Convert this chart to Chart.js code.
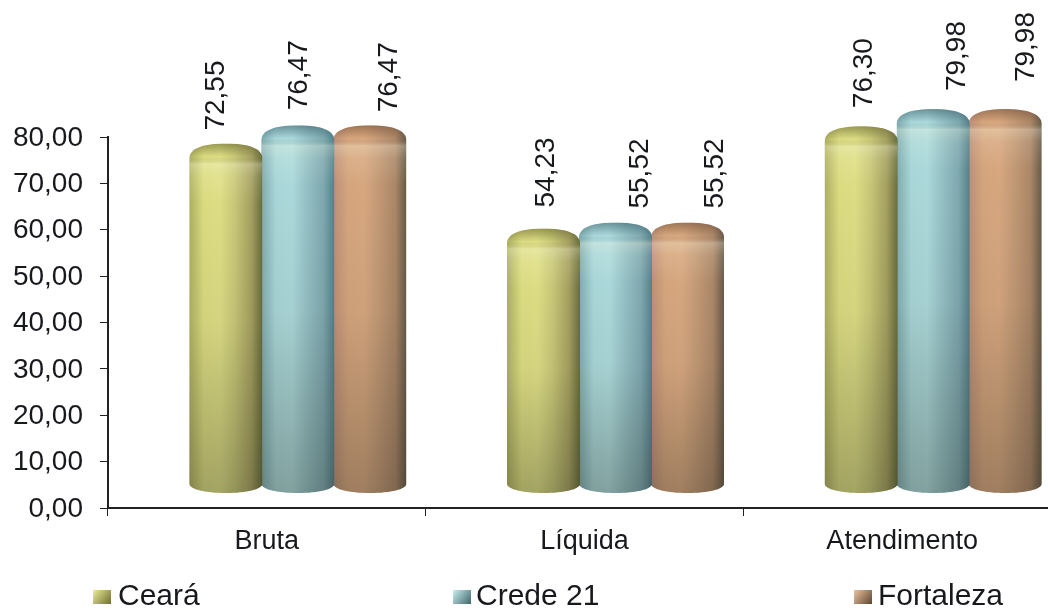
<!DOCTYPE html>
<html><head><meta charset="utf-8">
<style>html,body{margin:0;padding:0;background:#fff;overflow:hidden;width:1048px;height:609px}
#w{position:absolute;left:0;top:0;width:1061px;height:609px}canvas{display:block;filter:blur(0.5px)}</style>
<script src="https://cdn.jsdelivr.net/npm/chart.js@4"></script></head>
<body><div id="w"><canvas id="c" width="1061" height="609"></canvas></div>
<script>
const categories = ["Bruta","Líquida","Atendimento"];
const ceara = [72.55,54.23,76.30];
const crede21 = [76.47,55.52,79.98];
const fortaleza = [76.47,55.52,79.98];
const yTicks = [0,10,20,30,40,50,60,70,80];
const fmt = v => v.toFixed(2).replace('.',',');
const FONT = '"Liberation Sans", Arial, sans-serif';
const INK = '#17191d';
const SHIFT = {x:31,y:-21};
// label nudges: [category][series]
const labelDx = [[-10,1.5,19],[3,25,27.5],[3,24,21]];
const labelGap = [[41,43,41],[49,42,42],[46,46,55]];
const palette = [
 {stops:['#aeb060','#dcdc82','#dede86','#c9c878','#a5a060','#686c3c'],rim:'95,95,40',key:['#ecec9a','#6f6f30']},
 {stops:['#7fabb0','#aad7d9','#addadc','#96c2c6','#7fa9b0','#56808a'],rim:'50,90,100',key:['#c8f0f2','#3f6668']},
 {stops:['#bd8f78','#d6a67e','#d8a880','#c49a76','#ab8768','#675a48'],rim:'110,75,50',key:['#eec4a2','#5d452f']}
];
const stopAt=[0,.2,.42,.62,.85,1];
const legendPos = [{m:93,t:118},{m:453,t:476},{m:854,t:878}];
const cyl = {
 id:'cyl',
 beforeDatasetsDraw(ch){ch.ctx.save();ch.ctx.translate(SHIFT.x,SHIFT.y);},
 afterDatasetDraw(ch,a){
  const c=ch.ctx,p=palette[a.index];
  a.meta.data.forEach(b=>{
   const {x,y,base,width}=b.getProps(['x','y','base','width'],true);
   const rx=width/2+.6,l=x-rx,r=x+rx,tp=y-7,bt=base+6.5,w=rx*2;
   c.save();
   c.beginPath();
   c.moveTo(l,y+8);
   c.bezierCurveTo(l,y-2,x-rx*.6,tp,x,tp);
   c.bezierCurveTo(x+rx*.6,tp,r,y-2,r,y+8);
   c.lineTo(r,base-3);
   c.bezierCurveTo(r,base+3,x+rx*.55,bt,x,bt);
   c.bezierCurveTo(x-rx*.55,bt,l,base+3,l,base-3);
   c.closePath();c.clip();
   const g=c.createLinearGradient(l,0,r,0);
   p.stops.forEach((s,i)=>g.addColorStop(stopAt[i],s));
   c.fillStyle=g;c.fillRect(l,tp,w,bt-tp);
   const v=c.createLinearGradient(0,y+30,0,bt);
   v.addColorStop(0,'rgba(30,30,20,0)');v.addColorStop(.45,'rgba(30,30,20,.05)');v.addColorStop(1,'rgba(30,30,20,.3)');
   c.fillStyle=v;c.fillRect(l,y+30,w,bt-y-30);
   const t=c.createLinearGradient(0,tp,0,tp+60);
   t.addColorStop(0,'rgba('+p.rim+',.55)');
   t.addColorStop(.12,'rgba('+p.rim+',.25)');
   t.addColorStop(.22,'rgba('+p.rim+',0)');
   t.addColorStop(.34,'rgba(255,255,235,.28)');
   t.addColorStop(.55,'rgba(255,255,235,.1)');
   t.addColorStop(1,'rgba(255,255,235,0)');
   c.fillStyle=t;c.fillRect(l,tp,w,60);
   c.restore();
  });
 },
 afterDatasetsDraw(ch){
  const c=ch.ctx;c.restore();
  c.save();c.fillStyle=INK;c.font='28px '+FONT;c.textBaseline='middle';c.textAlign='left';
  ch.data.datasets.forEach((d,i)=>{
   ch.getDatasetMeta(i).data.forEach((b,k)=>{
    const px=b.x+SHIFT.x+labelDx[k][i], py=ch.scales.y.getPixelForValue(d.data[k])-labelGap[k][i];
    c.save();c.translate(px,py);c.rotate(-Math.PI/2);c.fillText(fmt(d.data[k]),0,0);c.restore();
   });
  });
  c.font='30px '+FONT;
  ch.data.datasets.forEach((d,i)=>{
   const L=legendPos[i],p=palette[i],yy=597;
   const g=c.createLinearGradient(L.m,yy-7,L.m+18,yy+7);
   g.addColorStop(0,p.key[0]);g.addColorStop(1,p.key[1]);
   c.fillStyle=g;c.fillRect(L.m,yy-7,18,14);
   c.fillStyle=INK;c.fillText(d.label,L.t,yy);
  });
  c.restore();
 }
};
new Chart(document.getElementById('c'),{
 type:'bar',
 data:{labels:categories,datasets:[
  {label:'Ceará',data:ceara,backgroundColor:'rgba(0,0,0,0)'},
  {label:'Crede 21',data:crede21,backgroundColor:'rgba(0,0,0,0)'},
  {label:'Fortaleza',data:fortaleza,backgroundColor:'rgba(0,0,0,0)'}]},
 options:{
  responsive:false,animation:false,
  layout:{padding:{top:137,left:0,right:0,bottom:0}},
  categoryPercentage:.68,barPercentage:1,
  plugins:{legend:{display:false},tooltip:{enabled:false}},
  scales:{
   x:{grid:{drawOnChartArea:false,color:'#222',tickLength:8},border:{color:'#222',width:2},
      ticks:{color:INK,font:{family:FONT,size:27},padding:9,maxRotation:0},
      afterFit(s){s.height=101;}},
   y:{min:0,max:80,afterBuildTicks(s){s.ticks=yTicks.map(value=>({value}));},
      grid:{drawOnChartArea:false,color:'#222',tickLength:8},border:{color:'#222',width:2},
      ticks:{color:INK,font:{family:FONT,size:28},padding:17,labelOffset:1,callback:v=>fmt(v)},
      afterFit(s){s.width=108;}}
  }
 },
 plugins:[cyl]
});
</script></body></html>
